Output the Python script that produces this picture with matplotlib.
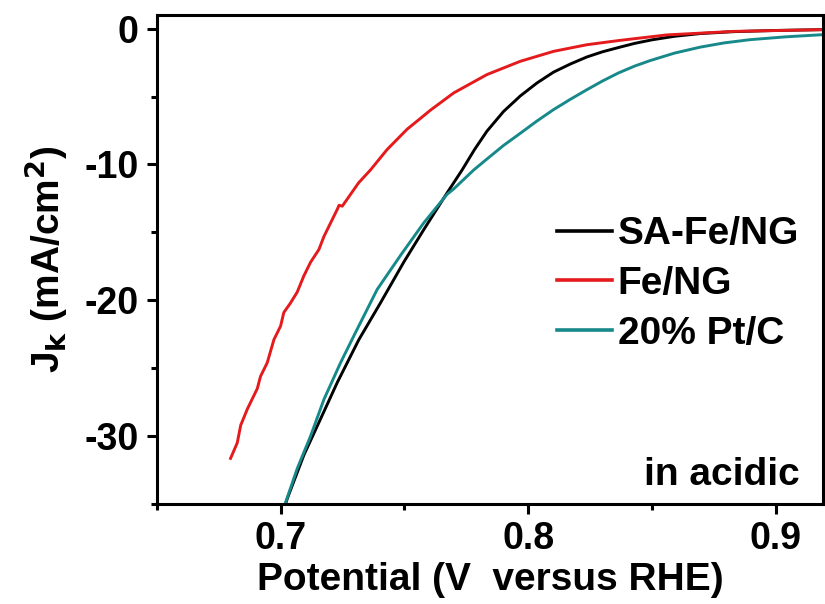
import matplotlib
matplotlib.use("Agg")
import matplotlib.pyplot as plt
from matplotlib.ticker import MultipleLocator

plt.rcParams["font.family"] = ["Liberation Sans", "DejaVu Sans"]
plt.rcParams["font.weight"] = "bold"

# Kinetic current density (mA/cm2) vs potential (V vs RHE), acidic electrolyte
sa_fe_v = [0.7020, 0.7027, 0.7094, 0.7161, 0.7229, 0.7316, 0.7403, 0.7497, 0.7578,
           0.7672, 0.7733, 0.7783, 0.7833, 0.7900, 0.7968, 0.8035, 0.8102, 0.8170,
           0.8237, 0.8300, 0.8370, 0.8430, 0.8500, 0.8590, 0.8694, 0.8828, 0.9000,
           0.9190]
sa_fe_j = [-35.0, -34.6, -31.4, -28.75, -26.05, -22.9, -20.2, -17.2, -14.8,
           -12.1, -10.4, -8.9, -7.55, -6.1, -4.95, -4.0, -3.2, -2.6,
           -2.08, -1.7, -1.36, -1.08, -0.82, -0.56, -0.36, -0.22, -0.13,
           -0.07]

fe_ng_v = [0.6798, 0.6825, 0.6839, 0.6866, 0.6906, 0.6919, 0.6946, 0.6973, 0.7000,
           0.7013, 0.7040, 0.7067, 0.7094, 0.7121, 0.7155, 0.7175, 0.7229, 0.7236,
           0.7249, 0.7315, 0.7363, 0.7430, 0.7511, 0.7565, 0.7605, 0.7699, 0.7833,
           0.7968, 0.8102, 0.8237, 0.8371, 0.8559, 0.8828, 0.9190]
fe_ng_j = [-31.64, -30.5, -29.2, -28.0, -26.5, -25.6, -24.6, -22.9, -21.9,
           -20.9, -20.2, -19.4, -18.2, -17.2, -16.25, -15.3, -13.3, -13.0,
           -13.07, -11.35, -10.4, -8.9, -7.4, -6.6, -6.0, -4.73, -3.38,
           -2.4, -1.67, -1.18, -0.86, -0.46, -0.2, -0.07]

ptc_v = [0.7020, 0.7067, 0.7121, 0.7175, 0.7242, 0.7299, 0.7390, 0.7484, 0.7578,
         0.7672, 0.7699, 0.7780, 0.7833, 0.7900, 0.7968, 0.8035, 0.8102, 0.8170,
         0.8237, 0.8300, 0.8364, 0.8430, 0.8492, 0.8590, 0.8694, 0.8790, 0.8895,
         0.9040, 0.9190]
ptc_j = [-34.9, -32.4, -30.0, -27.3, -24.6, -22.5, -19.2, -16.7, -14.3,
         -12.2, -11.8, -10.4, -9.6, -8.6, -7.7, -6.8, -5.96, -5.2,
         -4.49, -3.85, -3.26, -2.75, -2.35, -1.8, -1.36, -1.05, -0.81,
         -0.6, -0.44]

labels = ["SA-Fe/NG", "Fe/NG", "20% Pt/C"]
colors = ["#000000", "#e41a1c", "#18898a"]

fig = plt.figure(figsize=(8.25, 6.04), dpi=100)
ax = fig.add_axes([0.190, 0.1656, 0.8076, 0.8094])

for v, j, lab, c in zip([sa_fe_v, fe_ng_v, ptc_v], [sa_fe_j, fe_ng_j, ptc_j], labels, colors):
    ax.plot(v, j, color=c, lw=2.1, label=lab, solid_joinstyle="round")

ax.set_xlim(0.65, 0.919)
ax.set_ylim(-35, 1.0)
ax.xaxis.set_minor_locator(MultipleLocator(0.05))
ax.yaxis.set_minor_locator(MultipleLocator(5))
ax.set_xticks([0.7, 0.8, 0.9])
ax.set_xticklabels(["0.7", "0.8", "0.9"])
ax.set_yticks([0, -10, -20, -30])
ax.set_yticklabels(["0", "-10", "-20", "-30"])

for s in ax.spines.values():
    s.set_linewidth(2.2)
ax.tick_params(which="major", direction="out", length=7, width=2.2, labelsize=27)
ax.tick_params(axis="y", which="major", pad=6)
ax.tick_params(axis="x", which="major", pad=5)
ax.tick_params(which="minor", direction="out", length=4.5, width=2.2)

ax.set_xlabel("Potential (V  versus RHE)", fontsize=28, fontweight="bold", labelpad=4)
ax.set_ylabel(r"J$_\mathbf{k}$ (mA/cm$^\mathbf{2}$)", fontsize=28, fontweight="bold")
ax.yaxis.set_label_coords(-0.13, 0.5)

leg = ax.legend(loc="center left", bbox_to_anchor=(0.6006, 0.45), frameon=False,
                fontsize=28, handlelength=1.41, handletextpad=0.15, labelspacing=0.35,
                borderpad=0, borderaxespad=0)
for line in leg.get_lines():
    line.set_linewidth(2.6)

ax.text(0.9655, 0.039, "in acidic", transform=ax.transAxes, ha="right", va="baseline",
        fontsize=28, fontweight="bold")

fig.savefig("out.png", dpi=100)
